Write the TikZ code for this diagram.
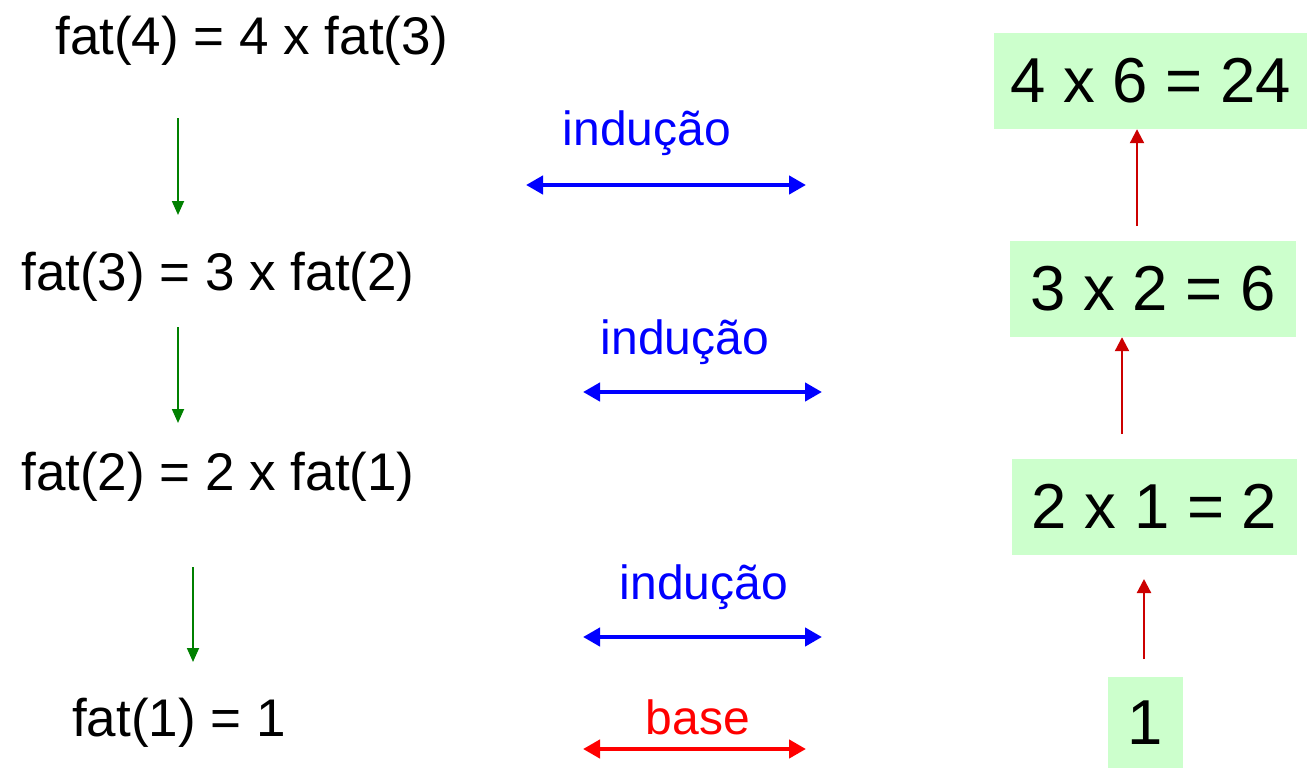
\documentclass[tikz,border=0pt]{standalone}
\usepackage{fontspec}
\setmainfont{Liberation Sans}
\usetikzlibrary{arrows.meta}
\definecolor{boxgreen}{RGB}{204,255,204}
\definecolor{stepgreen}{RGB}{0,128,0}
\definecolor{backred}{RGB}{204,0,0}
\begin{document}
\begin{tikzpicture}[x=1pt,y=-1pt,
  eqn/.style={anchor=base,inner sep=0pt,font=\fontsize{53}{60}\selectfont},
  res/.style={rectangle,fill=boxgreen,inner sep=0pt,font=\fontsize{63.5}{70}\selectfont},
  lbl/.style={anchor=base,inner sep=0pt,font=\fontsize{48}{54}\selectfont},
  down/.style={stepgreen,line width=1.8pt,-{Triangle[length=14pt,width=12pt]}},
  up/.style={backred,line width=2.2pt,-{Triangle[length=14pt,width=14pt]}},
  both/.style={line width=4.5pt,{Triangle[length=17pt,width=18pt]}-{Triangle[length=17pt,width=18pt]}}]
\useasboundingbox (0,0) rectangle (1307,768);

% left column: unfolding the recursion
\node[eqn] (f4) at (252,55) {fat(4) = 4 x fat(3)};
\node[eqn] (f3) at (218,290) {fat(3) = 3 x fat(2)};
\node[eqn] (f2) at (218,490) {fat(2) = 2 x fat(1)};
\node[eqn] (f1) at (179,736) {fat(1) = 1};

\coordinate (g1a) at (178,118); \coordinate (g1b) at (178,215);
\coordinate (g2a) at (178,327); \coordinate (g2b) at (178,423);
\coordinate (g3a) at (193,567); \coordinate (g3b) at (193,662);
\draw[down] (g1a) -- (g1b);
\draw[down] (g2a) -- (g2b);
\draw[down] (g3a) -- (g3b);

% middle: induction steps and base case
\node[lbl,text=blue] (l1) at (647,145) {indução};
\node[lbl,text=blue] (l2) at (685,354) {indução};
\node[lbl,text=blue] (l3) at (704,599) {indução};
\node[lbl,text=red] (l4) at (698,734) {base};

\coordinate (h1a) at (526,185); \coordinate (h1b) at (806,185);
\coordinate (h2a) at (583,392); \coordinate (h2b) at (822,392);
\coordinate (h3a) at (583,637); \coordinate (h3b) at (822,637);
\coordinate (h4a) at (583,749); \coordinate (h4b) at (806,749);
\draw[both,blue] (h1a) -- (h1b);
\draw[both,blue] (h2a) -- (h2b);
\draw[both,blue] (h3a) -- (h3b);
\draw[both,red] (h4a) -- (h4b);

% right column: results computed on the way back
\node[res,minimum width=313pt,minimum height=96pt] (r4) at (1150.5,81) {4 x 6 = 24};
\node[res,minimum width=286pt,minimum height=96pt] (r3) at (1153,289) {3 x 2 = 6};
\node[res,minimum width=285pt,minimum height=96pt] (r2) at (1154.5,506.5) {2 x 1 = 2};
\node[res,minimum width=75pt,minimum height=91pt] (r1) at (1145.5,722.5) {1};

\coordinate (u1) at (1144,659);
\coordinate (u2) at (1122,434);
\coordinate (u3) at (1137,226);
\draw[up] (u1) -- (u1 |- 0,579);
\draw[up] (u2) -- (u2 |- r3.south);
\draw[up] (u3) -- (u3 |- r4.south);
\end{tikzpicture}
\end{document}
